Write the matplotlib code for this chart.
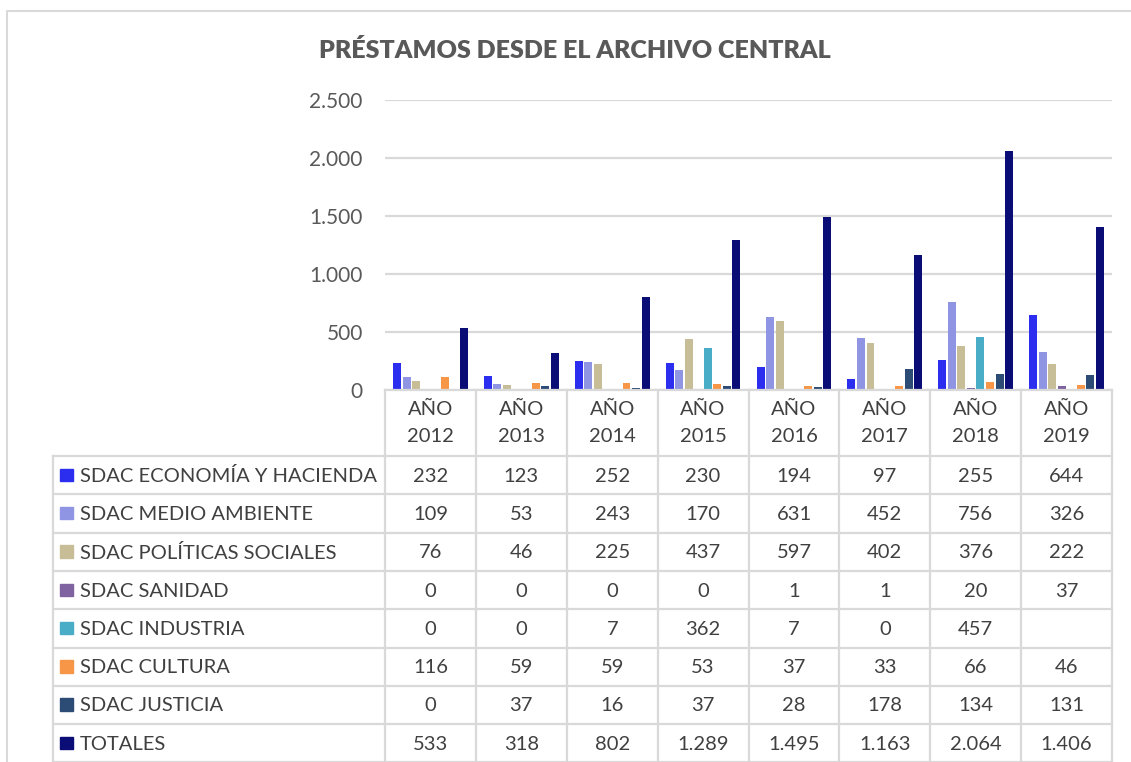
import numpy as np
import matplotlib
matplotlib.use("Agg")
import matplotlib.pyplot as plt
from matplotlib.patches import Rectangle

plt.rcParams['font.family'] = ['Lato', 'DejaVu Sans']

# ---------------- data ----------------
years = ["AÑO\n2012", "AÑO\n2013", "AÑO\n2014", "AÑO\n2015",
         "AÑO\n2016", "AÑO\n2017", "AÑO\n2018", "AÑO\n2019"]
series_names = ["SDAC ECONOMÍA Y HACIENDA", "SDAC MEDIO AMBIENTE",
                "SDAC POLÍTICAS SOCIALES", "SDAC SANIDAD", "SDAC INDUSTRIA",
                "SDAC CULTURA", "SDAC JUSTICIA", "TOTALES"]
economia = [232, 123, 252, 230, 194, 97, 255, 644]
medio_ambiente = [109, 53, 243, 170, 631, 452, 756, 326]
politicas_sociales = [76, 46, 225, 437, 597, 402, 376, 222]
sanidad = [0, 0, 0, 0, 1, 1, 20, 37]
industria = [0, 0, 7, 362, 7, 0, 457, np.nan]
cultura = [116, 59, 59, 53, 37, 33, 66, 46]
justicia = [0, 37, 16, 37, 28, 178, 134, 131]
totales = [533, 318, 802, 1289, 1495, 1163, 2064, 1406]
series = [economia, medio_ambiente, politicas_sociales, sanidad,
          industria, cultura, justicia, totales]
colors = ["#2B2EEE", "#8F95E3", "#C7BE98", "#7F62A0",
          "#4AADC7", "#F79646", "#2D4C75", "#0B0D76"]
yticks = [0, 500, 1000, 1500, 2000, 2500]
title = "PRÉSTAMOS DESDE EL ARCHIVO CENTRAL"

# ---------------- figure ----------------
W, H = 1131, 762
fig = plt.figure(figsize=(W / 100, H / 100), dpi=100)
GRID = "#D9D9D9"
TXT = "#595959"
TTXT = "#404040"

# layout in pixels
ax_l, ax_r, ax_top, ax_bot = 385, 1112, 100, 390
ax = fig.add_axes([ax_l / W, 1 - ax_bot / H, (ax_r - ax_l) / W, (ax_bot - ax_top) / H])
n = len(years)
x = np.arange(n)
pitch = 0.105
bw = 0.088
for j, (vals, col) in enumerate(zip(series, colors)):
    ax.bar(x + (j - 3.5) * pitch, vals, width=bw, color=col, zorder=3)
ax.set_xlim(-0.5, n - 0.5)
ax.set_ylim(0, 2500)
ax.set_yticks(yticks)
ax.set_yticklabels([f"{v:,}".replace(",", ".") for v in yticks], color=TXT, fontsize=15)
ax.set_xticks([])
ax.tick_params(axis='y', length=0, pad=16)
ax.grid(axis='y', color=GRID, lw=1.6, zorder=0)
for s in ax.spines.values():
    s.set_visible(False)

fig.text(575 / W, 1 - 50 / H, title, ha='center', va='center',
         fontsize=18, fontweight='heavy', color=TXT)

# ---------------- data table ----------------
tax = fig.add_axes([0, 0, 1, 1], zorder=5)
tax.set_xlim(0, W)
tax.set_ylim(H, 0)
tax.axis('off')

# outer chart frame
tax.plot([7, 7, W + 5], [H + 5, 11, 11], color=GRID, lw=1.5)

col_w = (ax_r - ax_l) / n
col_edges = [ax_l + i * col_w for i in range(n + 1)]
tab_left = 53
row_top = 456
row_h = 38.3
row_edges = [row_top + i * row_h for i in range(len(series) + 1)]

lw = 1.6
# header top line (axis line)
tax.plot([ax_l, ax_r], [ax_bot, ax_bot], color=GRID, lw=lw)
for xe in col_edges:
    tax.plot([xe, xe], [ax_bot, H + 5], color=GRID, lw=lw)
tax.plot([tab_left, tab_left], [row_top, H + 5], color=GRID, lw=lw)
for ye in row_edges:
    tax.plot([tab_left, ax_r], [ye, ye], color=GRID, lw=lw)

# header labels
for i, yl in enumerate(years):
    cx = ax_l + (i + 0.5) * col_w
    tax.text(cx, (ax_bot + row_top) / 2, yl, ha='center', va='center',
             fontsize=14.5, color=TTXT, linespacing=1.75)

def fmt(v):
    if v is None or (isinstance(v, float) and np.isnan(v)):
        return ""
    return f"{int(v):,}".replace(",", ".")

for r, (name, vals, col) in enumerate(zip(series_names, series, colors)):
    cy = row_top + (r + 0.5) * row_h
    tax.add_patch(Rectangle((60, cy - 6.5), 12.5, 12.5, color=col))
    tax.text(80, cy + 1, name, ha='left', va='center', fontsize=14.5, color=TTXT)
    for i, v in enumerate(vals):
        cx = ax_l + (i + 0.5) * col_w
        tax.text(cx, cy + 1, fmt(v), ha='center', va='center',
                 fontsize=14.5, color=TTXT)

fig.savefig("out.png", dpi=100, facecolor="white")
